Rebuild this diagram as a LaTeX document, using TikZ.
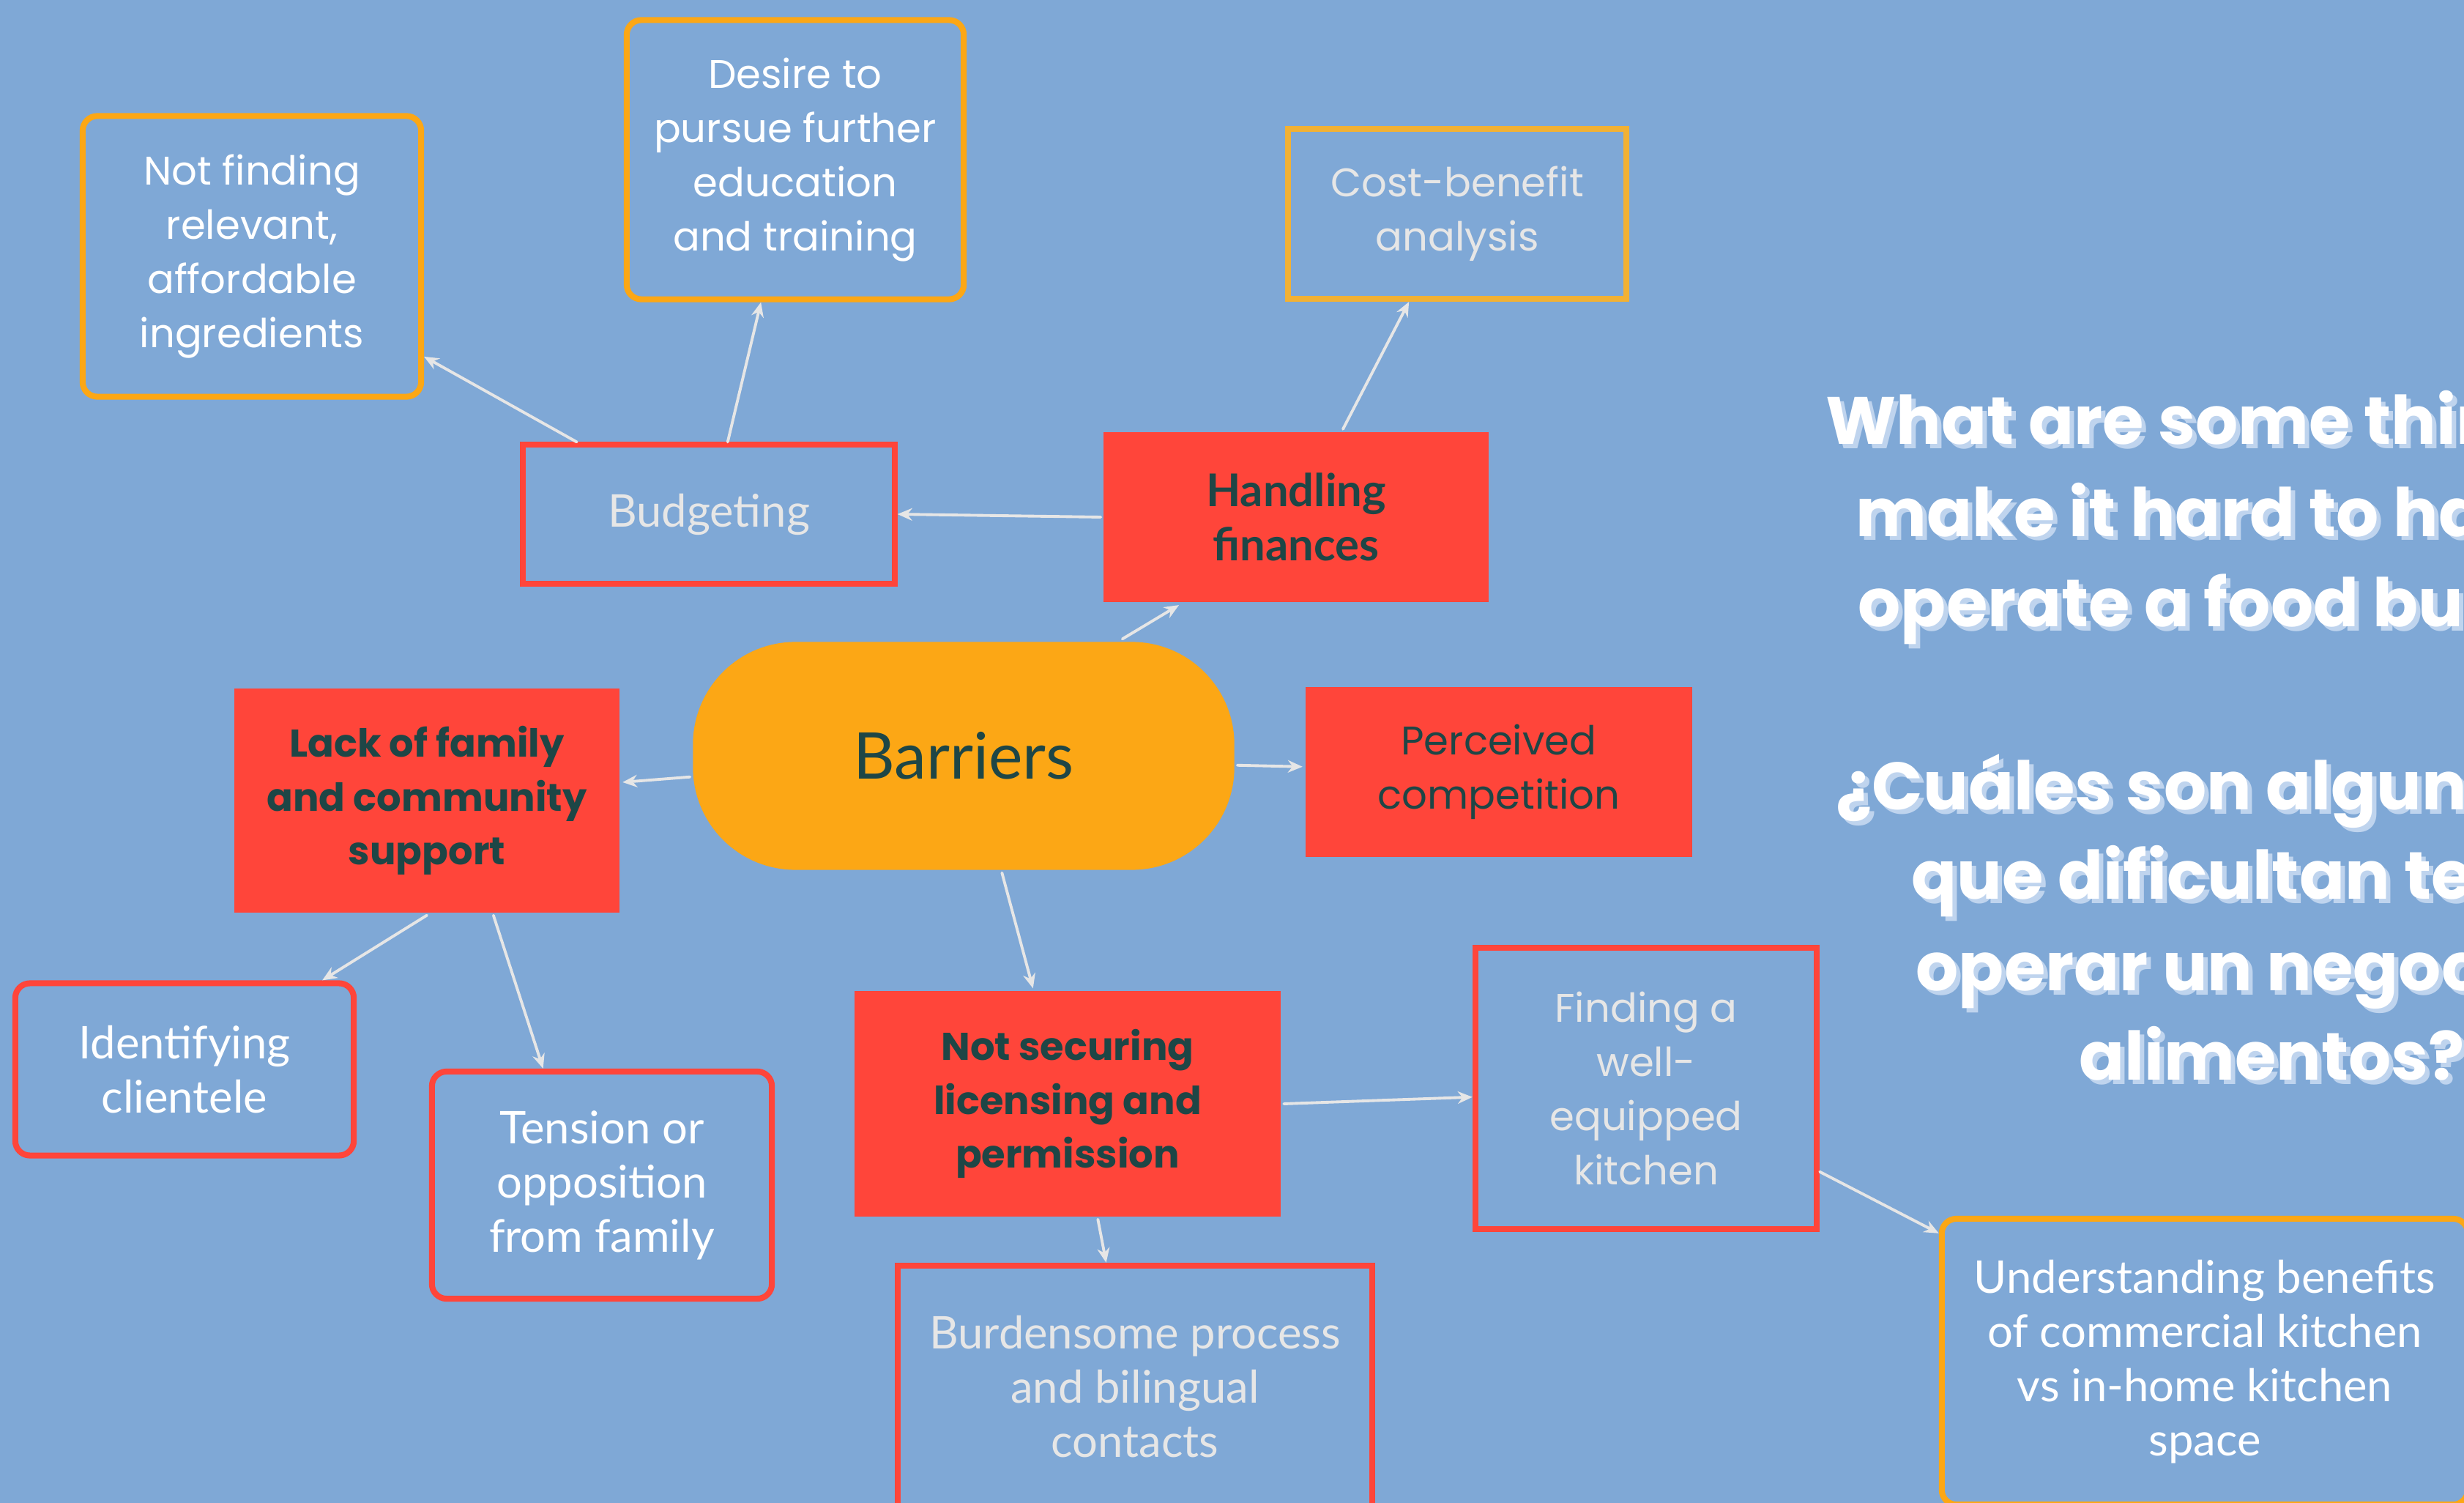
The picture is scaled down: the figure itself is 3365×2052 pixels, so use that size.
\documentclass[tikz,border=0pt]{standalone}
\usepackage{fontspec}
\setmainfont{Poppins}
\newfontfamily\latofam{Lato}
\usetikzlibrary{arrows.meta,calc}

\definecolor{bgblue}{HTML}{7FA8D6}
\definecolor{boxred}{HTML}{FF453A}
\definecolor{boxorange}{HTML}{FCA715}
\definecolor{boxgold}{HTML}{F2B134}
\definecolor{inkdark}{HTML}{1E4646}
\definecolor{inkgray}{HTML}{E6E6E6}
\definecolor{liftblue}{HTML}{BFD4EE}

\tikzset{
  base/.style={inner sep=0pt, align=center, line width=2.3pt},
  wfont/.style={font=\fontsize{15.5}{21}\selectfont},
  wbold/.style={font=\fontsize{15}{21}\selectfont\bfseries},
  pfont/.style={font=\latofam\fontsize{17.5}{21}\selectfont},
  pbold/.style={font=\latofam\fontsize{17.5}{21}\selectfont\bfseries},
  goldround/.style={base, draw=boxorange, rounded corners=0.2cm, text=white},
  redround/.style={base, draw=boxred, rounded corners=0.2cm, text=white},
  redframe/.style={base, draw=boxred, text=inkgray},
  goldframe/.style={base, draw=boxgold, text=inkgray},
  redblock/.style={base, fill=boxred, text=inkdark},
  link/.style={draw=inkgray, line width=1.1pt, line cap=round,
    -{Stealth[length=0.2cm, width=0.17cm]}},
  qline/.style={anchor=base west, inner sep=0pt,
    font=\fontsize{26}{35}\selectfont\bfseries},
}

\begin{document}
\begin{tikzpicture}[x=0.01cm, y=-0.01cm]
  % canvas
  \fill[bgblue] (0,0) rectangle (3365,2052);
  \useasboundingbox (0,0) rectangle (3365,2052);

  % central topic
  \node[base, fill=boxorange, text=inkdark, rounded corners=1.4cm,
        minimum width=7.39cm, minimum height=3.11cm,
        font=\latofam\fontsize{25}{30}\selectfont] (bar) at (1316,1032) {Barriers};

  % main branches
  \node[redblock, pbold, minimum width=5.25cm, minimum height=2.32cm] (fin) at (1770,706) {Handling\\finances};
  \node[redblock, wfont, minimum width=5.28cm, minimum height=2.32cm] (comp) at (2047,1054) {Perceived\\competition};
  \node[redblock, wbold, minimum width=5.26cm, minimum height=3.05cm] (fam) at (583,1093) {Lack of family\\and community\\support};
  \node[redblock, wbold, minimum width=5.82cm, minimum height=3.07cm] (lic) at (1458,1507) {Not securing\\licensing and\\permission};

  % sub-topics
  \node[redframe, pfont, minimum width=5.07cm, minimum height=1.89cm] (bud) at (968,702) {Budgeting};
  \node[goldround, wfont, minimum width=4.62cm, minimum height=3.83cm] (ingr) at (344,350) {Not finding\\relevant,\\affordable\\ingredients};
  \node[goldround, wfont, minimum width=4.60cm, minimum height=3.81cm] (edu) at (1086,218) {Desire to\\pursue further\\education\\and training};
  \node[goldframe, wfont, minimum width=4.62cm, minimum height=2.32cm] (cost) at (1990,292) {Cost-benefit\\analysis};
  \node[redround, pfont, minimum width=4.62cm, minimum height=2.35cm] (cli) at (252,1460) {Identifying\\clientele};
  \node[redround, pfont, minimum width=4.64cm, minimum height=3.10cm] (ten) at (822,1618) {Tension or\\opposition\\from family};
  \node[redframe, wfont, minimum width=4.66cm, minimum height=3.84cm] (kit) at (2248,1486) {Finding a\\well-\\equipped\\kitchen};
  \node[redframe, pfont, minimum width=6.47cm, minimum height=3.30cm] (proc) at (1550,1893) {Burdensome process\\and bilingual\\contacts};
  \node[goldround, pfont, minimum width=7.18cm, minimum height=3.90cm] (home) at (3011,1859) {Understanding benefits\\of commercial kitchen\\vs in-home kitchen\\space};

  % connectors
  \draw[link] ($(bud.north west)!0.15!(bud.north east)$) -- ($(ingr.north east)!0.85!(ingr.south east)$);
  \draw[link] ($(bud.north west)!0.55!(bud.north east)$) -- ($(edu.south west)!0.40!(edu.south east)$);
  \draw[link] (fin.west) -- (bud.east);
  \draw[link] ($(fin.north west)!0.62!(fin.north east)$) -- ($(cost.south west)!0.36!(cost.south east)$);
  \draw[link] ($(bar.north west)!0.79!(bar.north east)$) -- ($(fin.south west)!0.20!(fin.south east)$);
  \draw[link] ($(bar.north east)!0.54!(bar.south east)$) -- ($(comp.north west)!0.47!(comp.south west)$);
  \draw[link] ($(bar.north west)!0.59!(bar.south west)$) -- ($(fam.north east)!0.42!(fam.south east)$);
  \draw[link] ($(bar.south west)!0.57!(bar.south east)$) -- ($(lic.north west)!0.42!(lic.north east)$);
  \draw[link] (fam.south) -- ($(cli.north west)!0.90!(cli.north east)$);
  \draw[link] ($(fam.south west)!0.67!(fam.south east)$) -- ($(ten.north west)!0.33!(ten.north east)$);
  \draw[link] (lic.east) -- ($(kit.north west)!0.53!(kit.south west)$);
  \draw[link] ($(lic.south west)!0.57!(lic.south east)$) -- ($(proc.north west)!0.44!(proc.north east)$);
  \draw[link] ($(kit.north east)!0.79!(kit.south east)$) -- ($(home.north west)!0.06!(home.south west)$);

  % question, lifted lettering
  \foreach \dx/\dy/\col in {6/6/liftblue, 0/0/white} {
    \begin{scope}[shift={(\dx,\dy)}, every node/.append style={text=\col}]
      \node[qline] (q1) at (2493,607)  {What are some things that};
      \node[qline] (q2) at (2534,732)  {make it hard to have and};
      \node[qline] (q3) at (2537,856)  {operate a food business?};
      \node[qline] (q4) at (2507,1105) {¿Cuáles son algunas cosas};
      \node[qline] (q5) at (2610,1227) {que dificultan tener y};
      \node[qline] (q6) at (2616,1352) {operar un negocio de};
      \node[qline] (q7) at (2839,1474) {alimentos?};
    \end{scope}
  }
\end{tikzpicture}
\end{document}
